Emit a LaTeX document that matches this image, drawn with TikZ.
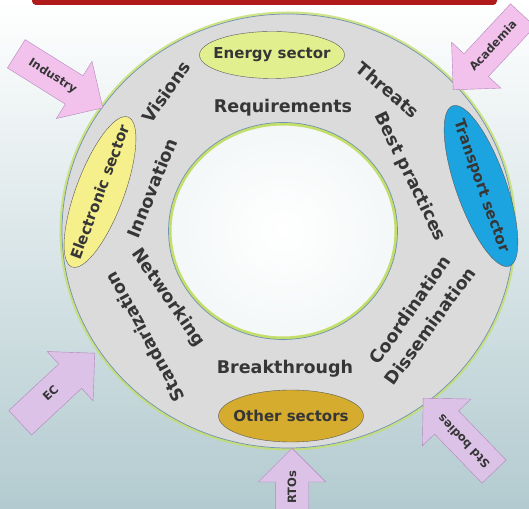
\documentclass[tikz,border=0pt]{standalone}
\usepackage{fontspec}
\setmainfont{DejaVu Sans}
\usetikzlibrary{shapes.geometric,shapes.arrows}
\definecolor{barred}{HTML}{B01A1A}
\definecolor{bgbottom}{HTML}{B3CBD0}
\definecolor{ringgrey}{HTML}{DBDBDB}
\definecolor{ringline}{HTML}{6F93B2}
\definecolor{glow}{HTML}{C4DE6A}
\definecolor{energy}{HTML}{E2EF8E}
\definecolor{electronic}{HTML}{F5EF8C}
\definecolor{transport}{HTML}{1CA4E0}
\definecolor{other}{HTML}{D5AC2E}
\definecolor{pinkarrow}{HTML}{F2C2EC}
\definecolor{lavarrow}{HTML}{DCC2E6}
\definecolor{arrowline}{HTML}{B386BC}
\definecolor{labelgrey}{HTML}{363636}

\begin{document}
\begin{tikzpicture}[x=1pt,y=1pt,
  word/.style={font=\bfseries\fontsize{17.5}{20}\selectfont, text=labelgrey, inner sep=0pt},
  sector/.style={draw=black!65, ellipse, inner sep=0pt, font=\bfseries\fontsize{15}{18}\selectfont, text=labelgrey},
  arrowword/.style={font=\bfseries\fontsize{11.5}{13}\selectfont, text=labelgrey},
  blockarrow/.style={arrowword, draw=arrowline, single arrow, single arrow head extend=17pt, minimum height=102pt,
    text height=8pt, text depth=2pt, inner ysep=11.5pt, anchor=tip}]
  \useasboundingbox (0,0) rectangle (529,508);
  \shade[top color=white, bottom color=bgbottom] (0,0) rectangle (529,508);
  \fill[barred, rounded corners=4pt] (32,516) rectangle (497,503);

  \fill[glow, opacity=.8] (288,277) ellipse [x radius=228.5, y radius=219.5];
  \fill[ringgrey, even odd rule] (288,277) ellipse [x radius=226, y radius=217] (283,277) ellipse [x radius=114.5, y radius=108.5];
  \shade[inner color=white, outer color=white!85!bgbottom] (283,277) ellipse [x radius=114.5, y radius=108.5];
  \draw[glow, line width=3pt] (283,277) ellipse [x radius=113, y radius=107];
  \draw[ringline, line width=.7pt] (288,277) ellipse [x radius=226, y radius=217];
  \draw[ringline, line width=.7pt] (283,277) ellipse [x radius=114.5, y radius=108.5];

  \node[sector, fill=energy, minimum width=145pt, minimum height=47pt] (energy) at (272,453) {\makebox[0pt]{Energy sector}};
  \node[sector, fill=electronic, rotate=69.5, minimum width=160pt, minimum height=48pt] (electronic) at (100,316) {\makebox[0pt]{Electronic sector}};
  \node[sector, fill=transport, rotate=-70.5, minimum width=170pt, minimum height=50pt] (transport) at (481,322) {\makebox[0pt]{Transport sector}};
  \node[sector, fill=other, minimum width=145pt, minimum height=52pt] (other) at (291,92) {\makebox[0pt]{Other sectors}};

  \node[word, rotate=55] (visions) at (166,416) {Visions};
  \node[word] (requirements) at (283,400) {Requirements};
  \node[word, rotate=-40] (threats) at (388,418) {Threats};
  \node[word, rotate=-64] (bestpractices) at (410,331) {Best practices};
  \node[word, rotate=68] (innovation) at (152,320) {Innovation};
  \node[word, rotate=-55] (networking) at (168,210) {Networking};
  \node[word, rotate=119] (standarization) at (145,171) {Standarization};
  \node[word] (breakthrough) at (285,139) {Breakthrough};
  \node[word, rotate=55] (coordination) at (410,198) {Coordination};
  \node[word, rotate=54] (dissemination) at (430,182) {Dissemination};

  \node[blockarrow, fill=pinkarrow, rotate=-32] (industry) at (103,400) {Industry};
  \node[blockarrow, fill=pinkarrow, rotate=47, shape border rotate=180] (academia) at (453,418) {Academia};
  \node[blockarrow, fill=lavarrow, rotate=43] (ec) at (95,155) {EC};
  \node[blockarrow, fill=lavarrow, rotate=90] (rtos) at (292,60) {};
  \node[arrowword, rotate=90] (rtoslabel) at (292,21) {RTOs};
  \node[blockarrow, fill=lavarrow, rotate=134] (stdbodies) at (423,110) {Std bodies};
\end{tikzpicture}
\end{document}
